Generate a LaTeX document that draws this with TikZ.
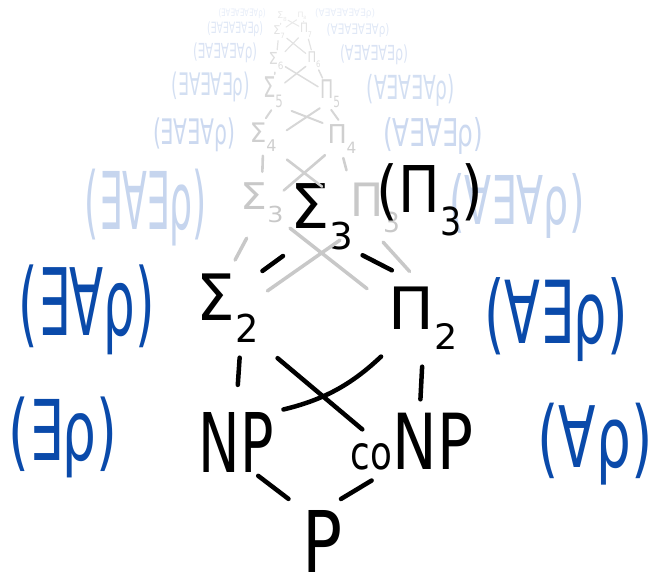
\documentclass[tikz,border=0pt]{standalone}
\usepackage{fontspec}
\setmainfont{DejaVu Sans}
\usepackage{graphicx}
\definecolor{inkblue}{HTML}{0A4AAA}
\definecolor{greyc}{HTML}{C8C8C8}
\definecolor{greyd}{HTML}{CFCFCF}
\definecolor{greye}{HTML}{D6D6D6}
\definecolor{greyf}{HTML}{DDDDDD}
\definecolor{greyg}{HTML}{E3E3E3}
\definecolor{greyh}{HTML}{E9E9E9}
\definecolor{bluec}{HTML}{C6D5EE}
\definecolor{blued}{HTML}{CCD9F0}
\definecolor{bluee}{HTML}{D3DFF2}
\definecolor{bluef}{HTML}{DAE3F4}
\definecolor{blueg}{HTML}{E0E8F6}
\definecolor{blueh}{HTML}{E7EDF8}
\usetikzlibrary{calc}
% hand-sized text: width, total height, text
\newcommand\hw[3]{\resizebox*{#1pt}{#2pt}{#3}}
\newcommand\sub[1]{\raisebox{-.35em}{\scalebox{.6}{#1}}}

\begin{document}
\begin{tikzpicture}[x=1pt,y=-1pt,
  cls/.style={inner sep=0pt, text=#1},
  cls/.default=black,
  lk/.style={line cap=round, line width=#1},
  ink/.style={lk=4.5pt, draw=black}
]
\useasboundingbox (0,0) rectangle (656,584);

% faint upper levels
\node[cls=greyh] (S8) at (282,17) {\hw{10}{10}{Σ\sub8}};
\node[cls=greyh] (P8) at (302,16) {\hw{9}{8}{Π\sub8}};
\node[cls=blueh] (L8) at (242,14) {\hw{47}{10}{(∃∀∃∀∃∀∃∀ρ)}};
\node[cls=blueh] (R8) at (345,14) {\hw{60}{10}{(∀∃∀∃∀∃∀∃ρ)}};

\node[cls=greyg] (S7) at (279,32) {\hw{12}{13}{Σ\sub7}};
\node[cls=greyg] (P7) at (306,30) {\hw{12}{14}{Π\sub7}};
\node[cls=blueg] (L7) at (235,29) {\hw{56}{15}{(∃∀∃∀∃∀∃ρ)}};
\node[cls=blueg] (R7) at (358,31) {\hw{63}{14}{(∀∃∀∃∀∃∀ρ)}};

\node[cls=greyf] (S6) at (276,61) {\hw{15}{18}{Σ\sub6}};
\node[cls=greyf] (P6) at (314,60) {\hw{13}{16}{Π\sub6}};
\node[cls=bluef] (L6) at (225,53) {\hw{64}{20}{(∃∀∃∀∃∀ρ)}};
\node[cls=bluef] (R6) at (374,55) {\hw{68}{20}{(∀∃∀∃∀∃ρ)}};

\node[cls=greye] (S5) at (273,92) {\hw{20}{31}{Σ\sub5}};
\node[cls=greye] (P5) at (330,94) {\hw{20}{28}{Π\sub5}};
\node[cls=bluee] (L5) at (211,87) {\hw{78}{30}{(∃∀∃∀∃ρ)}};
\node[cls=bluee] (R5) at (411,90) {\hw{88}{32}{(∀∃∀∃∀ρ)}};

\node[cls=greyd] (S4) at (263,137) {\hw{27}{29}{Σ\sub4}};
\node[cls=greyd] (P4) at (342,139) {\hw{29}{28}{Π\sub4}};
\node[cls=blued] (L4) at (194,135) {\hw{82}{34}{(∃∀∃∀ρ)}};
\node[cls=blued] (R4) at (433,136) {\hw{100}{37}{(∀∃∀∃ρ)}};

\node[cls=greyc] (S3) at (262,203) {\hw{43}{40}{Σ\sub3}};
\node[cls=greyc] (P3) at (375,208) {\hw{50}{50}{Π\sub3}};
\node[cls=bluec] (L3) at (146,208) {\hw{122}{77}{(∃∀∃ρ)}};
\node[cls=bluec] (R3) at (517,206) {\hw{135}{65}{(∀∃∀ρ)}};

% main levels
\node[cls] (S2) at (228,308) {\hw{62}{69}{Σ\sub2}};
\node[cls] (P2) at (423,318) {\hw{69}{63}{Π\sub2}};
\node[cls=inkblue] (L2) at (87,310) {\hw{136}{90}{(∃∀ρ)}};
\node[cls=inkblue] (R2) at (556,320) {\hw{143}{84}{(∀∃ρ)}};

\node[cls] (NP) at (236,442) {\hw{75}{60}{NP}};
\node[cls] (coNP) at (412,442) {\hw{122}{57}{\scalebox{.6}{co}NP}};
\node[cls=inkblue] (LNP) at (63,437) {\hw{109}{81}{(∃ρ)}};
\node[cls=inkblue] (RNP) at (595,444) {\hw{115}{82}{(∀ρ)}};

\node[cls] (P) at (323,541) {\hw{40}{62}{P}};

\node[cls] (S3b) at (322,217) {\hw{63}{67}{Σ\sub3}};
\node[cls] (P3b) at (430,200) {\hw{106}{72}{(Π\sub3)}};

% faint links
\draw[lk=1pt, greyh, shorten <=1pt, shorten >=1pt] (S8) -- (S7);
\draw[lk=1pt, greyh, shorten <=1pt, shorten >=1pt] (P8) -- (P7);
\draw[lk=1pt, greyh, shorten <=1pt, shorten >=1pt] (S8) -- (P7);
\draw[lk=1pt, greyh, shorten <=1pt, shorten >=1pt] (P8) -- (S7);
\draw[lk=1.2pt, greyg, shorten <=2pt, shorten >=2pt] (S7) -- (S6);
\draw[lk=1.2pt, greyg, shorten <=2pt, shorten >=2pt] (P7) -- (P6);
\draw[lk=1.2pt, greyg, shorten <=2pt, shorten >=2pt] (S7) -- (P6);
\draw[lk=1.2pt, greyg, shorten <=2pt, shorten >=2pt] (P7) -- (S6);
\draw[lk=1.5pt, greyf, shorten <=2pt, shorten >=2pt] (S6) -- (S5);
\draw[lk=1.5pt, greyf, shorten <=2pt, shorten >=2pt] (P6) -- (P5);
\draw[lk=1.5pt, greyf, shorten <=2pt, shorten >=2pt] (S6) -- (P5);
\draw[lk=1.5pt, greyf, shorten <=2pt, shorten >=2pt] (P6) -- (S5);
\draw[lk=2pt, greye, shorten <=3pt, shorten >=5pt] (S5.south) -- (S4.north);
\draw[lk=2pt, greye, shorten <=2pt, shorten >=6pt] (P5.south) -- (P4.north);
\draw[lk=2pt, greye, shorten <=12pt] (S4.east) -- (P5.south west);
\draw[lk=2pt, greye, shorten <=9pt, shorten >=5pt] (S5.south east) -- (P4.north west);
\draw[lk=2.6pt, greyd, shorten <=4pt, shorten >=11pt] (S4.south) -- (S3.north);
\draw[lk=2.6pt, greyd, shorten <=5pt, shorten >=13pt] (P4.south) -- (P3.north west);
\draw[lk=2.6pt, greyd, shorten <=13pt, shorten >=35pt] (S4.south east) -- (P3.west);
\draw[lk=2.6pt, greyd, shorten <=3pt] (P4.south west) -- (S3.30);
\draw[lk=3.5pt, greyc, shorten <=15pt, shorten >=17pt] (S2.north) -- (S3.-110);
\draw[lk=3.5pt, greyc, shorten <=12pt, shorten >=20pt] (P3.south) -- (P2.north);
\draw[lk=3.5pt, greyc, shorten <=10pt, shorten >=12pt] (S2.20) -- (P3.south west);
\draw[lk=3.5pt, greyc, shorten <=8pt, shorten >=27pt] (S3.south east) -- (P2.160);

% main links
\draw[ink, shorten <=4pt, shorten >=9pt] (S2.north east) -- (S3b.south west);
\draw[ink, shorten <=10pt, shorten >=35pt] (S3b.south east) -- (P2.north);
\draw[ink, shorten <=15pt, shorten >=27pt] (S2.-70) -- (NP.north);
\draw[ink, shorten <=17pt, shorten >=14pt] (P2.south) -- (coNP.75);
\draw[ink, shorten <=24pt, shorten >=-15pt] (S2.south east) -- (coNP.160);
\draw[ink, shorten <=10pt, shorten >=10pt] (P2.south west) to[bend left=15] (NP.north east);
\draw[ink, shorten <=6pt, shorten >=18pt] (NP.-60) -- (P.north west);
\draw[ink, shorten <=21pt, shorten >=19pt] (P.north) -- (coNP.-130);
\end{tikzpicture}
\end{document}
